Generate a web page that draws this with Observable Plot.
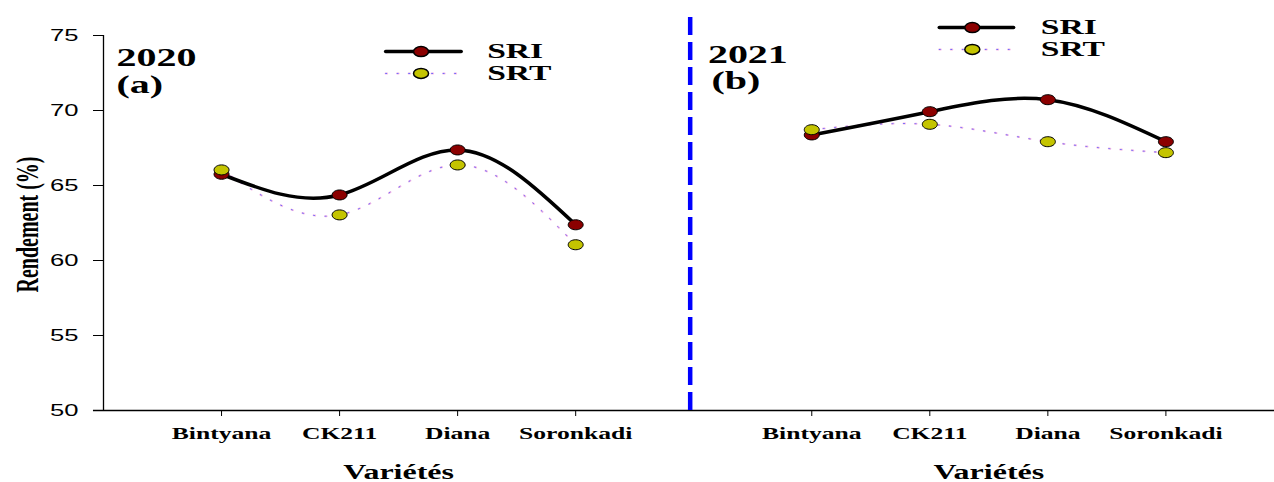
<!DOCTYPE html>
<html><head><meta charset="utf-8">
<script src="https://cdn.jsdelivr.net/npm/d3@7"></script>
<script src="https://cdn.jsdelivr.net/npm/@observablehq/plot@0.6"></script>
<style>body{margin:0;background:#fff;} #chart svg{display:block;}</style>
</head><body><div id="chart"></div>
<script>
// ---- data ----
const varieties = ["Bintyana", "CK211", "Diana", "Soronkadi"];
const years = ["2020", "2021"];
const panelLetters = ["(a)", "(b)"];
const series = ["SRI", "SRT"];
const sri2020 = [65.75, 64.37, 67.37, 62.38];
const srt2020 = [66.04, 63.04, 66.37, 61.05];
const sri2021 = [68.37, 69.92, 70.72, 67.92];
const srt2021 = [68.72, 69.08, 67.92, 67.19];
const yTicks = [50, 55, 60, 65, 70, 75];
const xLabel = "Variétés";
const yLabel = "Rendement (%)";

// ---- table built from arrays ----
const values = {"2020": {SRI: sri2020, SRT: srt2020}, "2021": {SRI: sri2021, SRT: srt2021}};
const rows = [];
years.forEach((yr, yi) => series.forEach(s => varieties.forEach((v, vi) => {
  rows.push({year: yr, series: s, variety: v, pos: yi * 5 + vi + 1, value: values[yr][s][vi]});
})));
const tickPos = [];
const tickName = new Map();
years.forEach((yr, yi) => varieties.forEach((v, vi) => { tickPos.push(yi * 5 + vi + 1); tickName.set(yi * 5 + vi + 1, v); }));

const SRI = rows.filter(d => d.series === "SRI");
const SRT = rows.filter(d => d.series === "SRT");

// ellipse symbol (figure was stretched horizontally)
const ellipse = {draw(ctx, size) {
  const r = Math.sqrt(size / Math.PI), rx = r * 1.5, ry = r, k = 0.5523;
  ctx.moveTo(rx, 0);
  ctx.bezierCurveTo(rx, ry * k, rx * k, ry, 0, ry);
  ctx.bezierCurveTo(-rx * k, ry, -rx, ry * k, -rx, 0);
  ctx.bezierCurveTo(-rx, -ry * k, -rx * k, -ry, 0, -ry);
  ctx.bezierCurveTo(rx * k, -ry, rx, -ry * k, rx, 0);
  ctx.closePath();
}};

const SRIcol = "#8b0000", SRTcol = "#c4c400";
const serif = "Liberation Serif, Times New Roman, serif";

// legend layout (per panel)
const legend = [
  {year: "2020", lx1: 2.39, lx2: 3.03, mx: 2.69, tx: 3.25, y1: 73.93, y2: 72.47},
  {year: "2021", lx1: 7.08, lx2: 7.71, mx: 7.36, tx: 7.94, y1: 75.53, y2: 74.07}
];
const legSRI = legend.flatMap(l => [{x: l.lx1, y: l.y1, g: l.year}, {x: l.lx2, y: l.y1, g: l.year}]);
const legSRT = legend.flatMap(l => [{x: l.lx1, y: l.y2, g: l.year}, {x: l.lx2, y: l.y2, g: l.year}]);

const headers = [
  {t: years[0], x: 0.11, y: 73.53}, {t: panelLetters[0], x: 0.11, y: 71.73},
  {t: years[1], x: 5.12, y: 73.67}, {t: panelLetters[1], x: 5.15, y: 72.0}
];

const pink = "#f4b8e4", blue = "#6a6aff";
const chart = Plot.plot({
  width: 1274, height: 482,
  marginLeft: 103, marginRight: 0, marginTop: 35, marginBottom: 72,
  x: {domain: [0, 9.92], label: null},
  y: {domain: [50, 75], label: null},
  style: {fontFamily: "Liberation Sans, Arial, sans-serif", fontSize: "16px", background: "#fff", color: "#000"},
  marks: [
    Plot.ruleX([0], {y1: 50, y2: 75, stroke: "#000", strokeWidth: 1.3}),
    Plot.ruleY([50], {x1: -0.085, x2: 9.92, stroke: "#000", strokeWidth: 1.3}),
    Plot.axisY({ticks: yTicks, tickSize: 10, tickPadding: 15, stroke: "#000", fontSize: 16}),
    Plot.axisX({ticks: tickPos, tickFormat: d => tickName.get(d), tickSize: 6, tickPadding: 11,
      fontFamily: serif, fontWeight: "bold", fontSize: 16}),
    Plot.ruleX([4.97], {y1: 50, y2: 76.3, stroke: "#0000ff", strokeWidth: 4.5, strokeDasharray: "18,7"}),
    // SRT dotted
    Plot.line(SRT, {x: "pos", y: "value", z: "year", curve: "natural", stroke: pink, strokeWidth: 2, strokeDasharray: "1.5,10"}),
    Plot.line(SRT, {x: "pos", y: "value", z: "year", curve: "natural", stroke: blue, strokeWidth: 1, strokeDasharray: "1,10.5"}),
    // SRI solid
    Plot.line(SRI, {x: "pos", y: "value", z: "year", curve: "natural", stroke: "#000", strokeWidth: 3.5}),
    Plot.dot(SRI, {x: "pos", y: "value", r: 5, symbol: ellipse, fill: SRIcol, stroke: "#000", strokeWidth: 1}),
    Plot.dot(SRT, {x: "pos", y: "value", r: 5, symbol: ellipse, fill: SRTcol, stroke: "#000", strokeWidth: 1}),
    // legends
    Plot.line(legSRI, {x: "x", y: "y", z: "g", stroke: "#000", strokeWidth: 3.5}),
    Plot.line(legSRT, {x: "x", y: "y", z: "g", stroke: pink, strokeWidth: 2, strokeDasharray: "1.5,10"}),
    Plot.line(legSRT, {x: "x", y: "y", z: "g", stroke: blue, strokeWidth: 1, strokeDasharray: "1,10.5"}),
    Plot.dot(legend, {x: "mx", y: "y1", r: 5, symbol: ellipse, fill: SRIcol, stroke: "#000"}),
    Plot.dot(legend, {x: "mx", y: "y2", r: 5, symbol: ellipse, fill: SRTcol, stroke: "#000"}),
    Plot.text(legend, {x: "tx", y: "y1", text: () => series[0], textAnchor: "start", fontFamily: serif, fontWeight: "bold", fontSize: 21}),
    Plot.text(legend, {x: "tx", y: "y2", text: () => series[1], textAnchor: "start", fontFamily: serif, fontWeight: "bold", fontSize: 21}),
    // panel headers
    Plot.text(headers, {x: "x", y: "y", text: "t", textAnchor: "start", fontFamily: serif, fontWeight: "bold", fontSize: 25}),
    // axis titles
    Plot.text([2.5, 7.5], {x: d => d, y: 45.87, text: () => xLabel, fontFamily: serif, fontWeight: "bold", fontSize: 20}),
    Plot.text([yLabel], {x: -0.64, y: 62.4, text: d => d, rotate: -90, fontFamily: serif, fontWeight: "bold", fontSize: 20})
  ]
});

// x-axis tick labels in bold serif
d3.select(chart).selectAll('g[aria-label="x-axis tick label"]')
  .attr("font-family", serif).attr("font-weight", "bold").attr("font-size", 16);
d3.select(chart).selectAll('g[aria-label="x-axis tick label"] text')
  .style("font-family", serif).style("font-weight", "bold");

// horizontal stretch of all text (the original figure is stretched sideways)
const S = 1.6;
d3.select(chart).selectAll("text").each(function() {
  const el = this;
  let t = el.getAttribute("transform");
  if (!t) {
    const x = el.getAttribute("x") || 0, y = el.getAttribute("y") || 0;
    el.removeAttribute("x"); el.removeAttribute("y");
    t = `translate(${x},${y})`;
  }
  el.setAttribute("transform", t + (t.includes("rotate") ? ` scale(1,${S})` : ` scale(${S},1)`));
});
document.getElementById("chart").appendChild(chart);
</script>
</body></html>
